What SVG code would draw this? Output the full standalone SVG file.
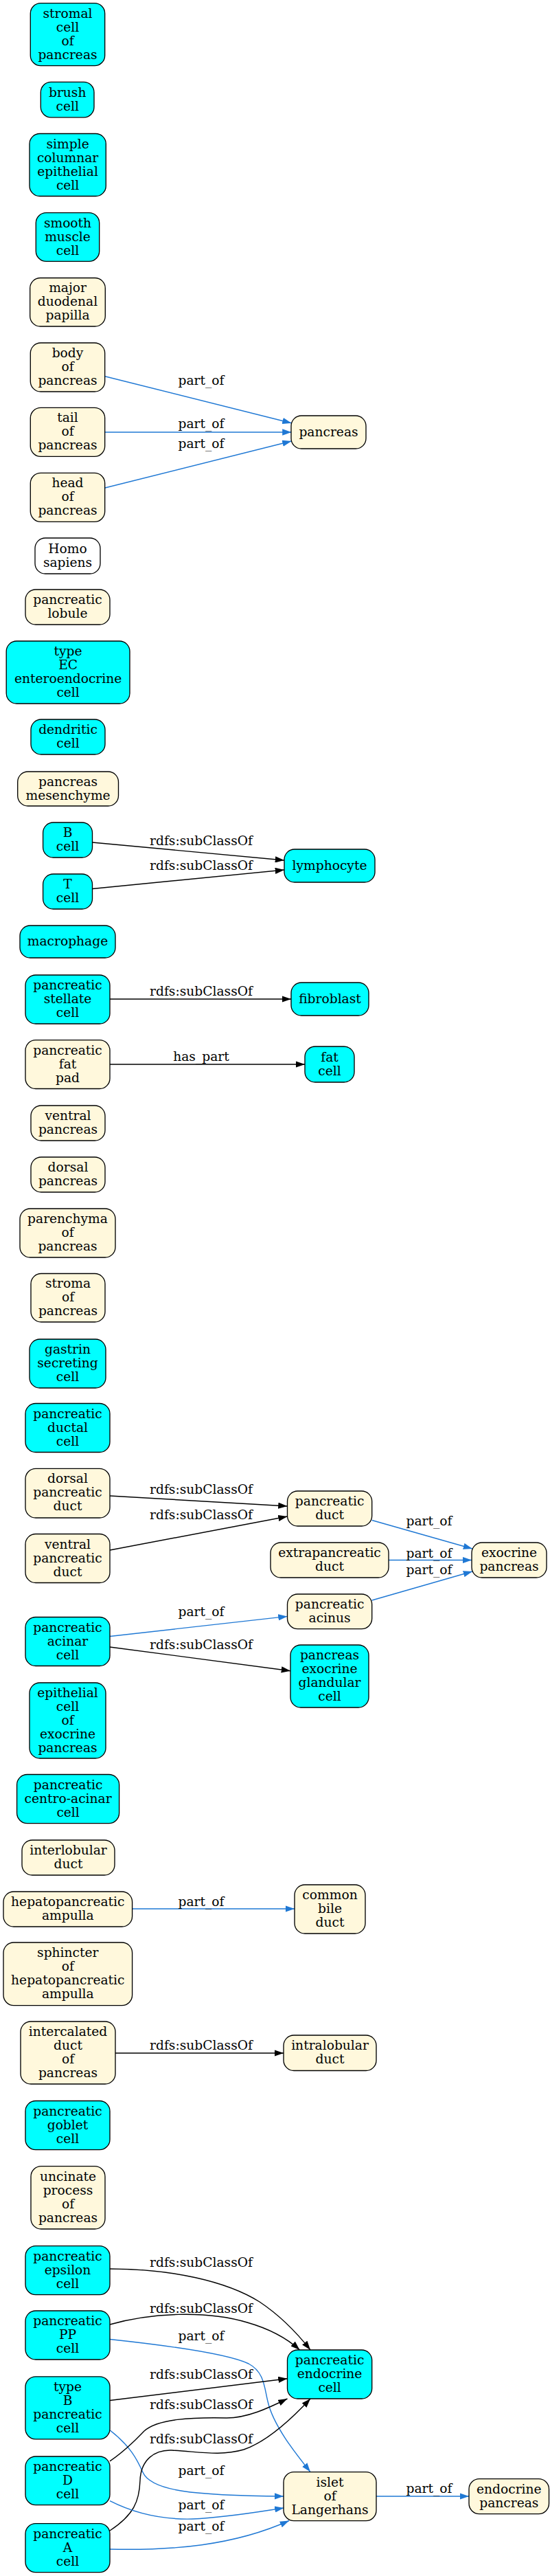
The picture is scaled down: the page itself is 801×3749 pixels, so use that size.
<svg xmlns="http://www.w3.org/2000/svg" width="801" height="3749" viewBox="0 0 801 3749">
<style>
.n rect{stroke:#000;stroke-width:1.33}
.c rect{fill:#00ffff}
.y rect{fill:#fff8dc}
.w rect{fill:#ffffff}
text{font-family:"DejaVu Serif",serif;font-size:18.67px;text-anchor:middle;fill:#000}
#edges path{fill:none;stroke-width:1.4}
#edges .k{stroke:#000;marker-end:url(#ak)}
#edges .p{stroke:#1f78d4;marker-end:url(#ap)}
</style>
<defs>
<marker id="ak" viewBox="0 0 10 7" refX="10" refY="3.5" markerWidth="13.3" markerHeight="9.3" markerUnits="userSpaceOnUse" orient="auto"><path d="M0,0L10,3.5L0,7z" fill="#000"/></marker>
<marker id="ap" viewBox="0 0 10 7" refX="10" refY="3.5" markerWidth="13.3" markerHeight="9.3" markerUnits="userSpaceOnUse" orient="auto"><path d="M0,0L10,3.5L0,7z" fill="#1f78d4"/></marker>
</defs>
<rect width="801" height="3749" fill="#fff"/>
<g id="edges">
<path class="p" d="M153,547.7L424.5,615.7"/>
<path class="p" d="M153,629L424.5,629"/>
<path class="p" d="M153,710L424.5,642"/>
<path class="k" d="M134.5,1226L414,1252"/>
<path class="k" d="M134.5,1293.5L414,1266"/>
<path class="k" d="M160,1454L424,1454"/>
<path class="k" d="M160,1549L444,1549"/>
<path class="k" d="M160,2177L418.5,2192"/>
<path class="k" d="M160,2256L418.5,2207"/>
<path class="p" d="M541.7,2212.5L688,2254"/>
<path class="p" d="M566,2270.5L687,2270.5"/>
<path class="p" d="M541.7,2329L688,2287"/>
<path class="p" d="M160,2381.5L418.5,2352.4"/>
<path class="k" d="M160,2397L423,2431.7"/>
<path class="p" d="M192.6,2778L429,2778"/>
<path class="k" d="M168,2988L413,2988"/>
<path class="k" d="M160,3302C250,3302 330,3320 378,3350C405,3368 430,3392 452,3420"/>
<path class="k" d="M160,3383C220,3366 300,3362 360,3380C395,3390 420,3405 436.5,3420"/>
<path class="p" d="M160,3404.5C230,3412 330,3425 362,3440C385,3452 385,3475 390,3495C398,3530 430,3570 452,3597.6"/>
<path class="k" d="M160,3493.5L418.5,3461.7"/>
<path class="p" d="M160,3536.7C190,3560 200,3580 208,3598C220,3625 280,3632 413,3633"/>
<path class="k" d="M160,3581.8C185,3565 200,3548 210,3538C230,3520 280,3518 330,3519C360,3519 390,3505 418.5,3491"/>
<path class="k" d="M160,3683C195,3660 203,3640 204,3610C205,3580 225,3565 250,3566C290,3568 320,3575 355,3565C390,3553 425,3520 452,3491"/>
<path class="p" d="M160,3639.7C200,3660 240,3667 280,3666C330,3664 380,3655 413.4,3650"/>
<path class="p" d="M160,3710C250,3712 340,3705 421,3668.5"/>
<path class="p" d="M548,3633L683,3633"/>
<text x="293" y="560">part_of</text>
<text x="293" y="623">part_of</text>
<text x="293" y="651.7">part_of</text>
<text x="293" y="1230">rdfs:subClassOf</text>
<text x="293" y="1266">rdfs:subClassOf</text>
<text x="293" y="1449">rdfs:subClassOf</text>
<text x="293" y="1543.8">has_part</text>
<text x="293" y="2174.3">rdfs:subClassOf</text>
<text x="293" y="2210.7">rdfs:subClassOf</text>
<text x="625" y="2220">part_of</text>
<text x="625" y="2266.6">part_of</text>
<text x="625" y="2290.6">part_of</text>
<text x="293" y="2351.7">part_of</text>
<text x="293" y="2399.7">rdfs:subClassOf</text>
<text x="293" y="2773.6">part_of</text>
<text x="293" y="2982.6">rdfs:subClassOf</text>
<text x="293" y="3299.3">rdfs:subClassOf</text>
<text x="293" y="3365.7">rdfs:subClassOf</text>
<text x="293" y="3406">part_of</text>
<text x="293" y="3461.7">rdfs:subClassOf</text>
<text x="293" y="3506">rdfs:subClassOf</text>
<text x="293" y="3556">rdfs:subClassOf</text>
<text x="293" y="3602">part_of</text>
<text x="293" y="3652">part_of</text>
<text x="293" y="3683">part_of</text>
<text x="625" y="3628">part_of</text>
</g>
<g id="n01" class="n c"><rect x="44.3" y="4.7" width="108.4" height="91" rx="15"/><text><tspan x="98.5" y="25.7">stromal</tspan><tspan x="98.5" y="45.7">cell</tspan><tspan x="98.5" y="65.7">of</tspan><tspan x="98.5" y="85.7">pancreas</tspan></text></g>
<g id="n02" class="n c"><rect x="59.3" y="119.4" width="77.7" height="51.4" rx="15"/><text><tspan x="98.2" y="140.6">brush</tspan><tspan x="98.2" y="160.6">cell</tspan></text></g>
<g id="n03" class="n c"><rect x="43" y="194.5" width="111.3" height="91" rx="15"/><text><tspan x="98.6" y="215.5">simple</tspan><tspan x="98.6" y="235.5">columnar</tspan><tspan x="98.6" y="255.5">epithelial</tspan><tspan x="98.6" y="275.5">cell</tspan></text></g>
<g id="n04" class="n c"><rect x="52.3" y="309.6" width="92.4" height="70.8" rx="15"/><text><tspan x="98.5" y="330.5">smooth</tspan><tspan x="98.5" y="350.5">muscle</tspan><tspan x="98.5" y="370.5">cell</tspan></text></g>
<g id="n05" class="n y"><rect x="43.7" y="404.5" width="109.6" height="70.5" rx="15"/><text><tspan x="98.5" y="425.3">major</tspan><tspan x="98.5" y="445.3">duodenal</tspan><tspan x="98.5" y="465.3">papilla</tspan></text></g>
<g id="n06" class="n y"><rect x="44.3" y="499" width="108.4" height="71" rx="15"/><text><tspan x="98.5" y="520">body</tspan><tspan x="98.5" y="540">of</tspan><tspan x="98.5" y="560">pancreas</tspan></text></g>
<g id="n07" class="n y"><rect x="44.3" y="593.3" width="108.4" height="71" rx="15"/><text><tspan x="98.5" y="614.3">tail</tspan><tspan x="98.5" y="634.3">of</tspan><tspan x="98.5" y="654.3">pancreas</tspan></text></g>
<g id="n08" class="n y"><rect x="44.3" y="688.3" width="108.4" height="71" rx="15"/><text><tspan x="98.5" y="709.3">head</tspan><tspan x="98.5" y="729.3">of</tspan><tspan x="98.5" y="749.3">pancreas</tspan></text></g>
<g id="n09" class="n w"><rect x="51" y="783" width="95" height="52" rx="15"/><text><tspan x="98.5" y="804.5">Homo</tspan><tspan x="98.5" y="824.5">sapiens</tspan></text></g>
<g id="n10" class="n y"><rect x="37" y="858" width="123" height="51" rx="15"/><text><tspan x="98.5" y="879">pancreatic</tspan><tspan x="98.5" y="899">lobule</tspan></text></g>
<g id="n11" class="n c"><rect x="9.2" y="933" width="179.8" height="91" rx="15"/><text><tspan x="99.1" y="954">type</tspan><tspan x="99.1" y="974">EC</tspan><tspan x="99.1" y="994">enteroendocrine</tspan><tspan x="99.1" y="1014">cell</tspan></text></g>
<g id="n12" class="n c"><rect x="45" y="1047" width="108" height="51" rx="15"/><text><tspan x="99" y="1068">dendritic</tspan><tspan x="99" y="1088">cell</tspan></text></g>
<g id="n13" class="n y"><rect x="25.7" y="1123" width="146.8" height="50" rx="15"/><text><tspan x="99.1" y="1143.5">pancreas</tspan><tspan x="99.1" y="1163.5">mesenchyme</tspan></text></g>
<g id="n14" class="n c"><rect x="62.6" y="1197" width="71.9" height="51" rx="15"/><text><tspan x="98.5" y="1218">B</tspan><tspan x="98.5" y="1238">cell</tspan></text></g>
<g id="n15" class="n c"><rect x="62.6" y="1272" width="71.9" height="51" rx="15"/><text><tspan x="98.5" y="1293">T</tspan><tspan x="98.5" y="1313">cell</tspan></text></g>
<g id="n16" class="n c"><rect x="29" y="1347" width="139" height="47" rx="15"/><text x="98.5" y="1376">macrophage</text></g>
<g id="n17" class="n c"><rect x="37" y="1419" width="123" height="71" rx="15"/><text><tspan x="98.5" y="1440">pancreatic</tspan><tspan x="98.5" y="1460">stellate</tspan><tspan x="98.5" y="1480">cell</tspan></text></g>
<g id="n18" class="n y"><rect x="37" y="1513.6" width="123" height="70.9" rx="15"/><text><tspan x="98.5" y="1534.5">pancreatic</tspan><tspan x="98.5" y="1554.5">fat</tspan><tspan x="98.5" y="1574.5">pad</tspan></text></g>
<g id="n19" class="n y"><rect x="45" y="1609" width="108" height="51" rx="15"/><text><tspan x="99" y="1630">ventral</tspan><tspan x="99" y="1650">pancreas</tspan></text></g>
<g id="n20" class="n y"><rect x="45" y="1684" width="108" height="51" rx="15"/><text><tspan x="99" y="1705">dorsal</tspan><tspan x="99" y="1725">pancreas</tspan></text></g>
<g id="n21" class="n y"><rect x="29" y="1759" width="139" height="71" rx="15"/><text><tspan x="98.5" y="1780">parenchyma</tspan><tspan x="98.5" y="1800">of</tspan><tspan x="98.5" y="1820">pancreas</tspan></text></g>
<g id="n22" class="n y"><rect x="45" y="1853.5" width="108" height="70.5" rx="15"/><text><tspan x="99" y="1874.3">stroma</tspan><tspan x="99" y="1894.3">of</tspan><tspan x="99" y="1914.3">pancreas</tspan></text></g>
<g id="n23" class="n c"><rect x="43" y="1949" width="111" height="71" rx="15"/><text><tspan x="98.5" y="1970">gastrin</tspan><tspan x="98.5" y="1990">secreting</tspan><tspan x="98.5" y="2010">cell</tspan></text></g>
<g id="n24" class="n c"><rect x="37" y="2042.5" width="123" height="71" rx="15"/><text><tspan x="98.5" y="2063.5">pancreatic</tspan><tspan x="98.5" y="2083.5">ductal</tspan><tspan x="98.5" y="2103.5">cell</tspan></text></g>
<g id="n25" class="n y"><rect x="37" y="2137.3" width="123" height="71.7" rx="15"/><text><tspan x="98.5" y="2158.2">dorsal</tspan><tspan x="98.5" y="2178.2">pancreatic</tspan><tspan x="98.5" y="2198.2">duct</tspan></text></g>
<g id="n26" class="n y"><rect x="37" y="2232.5" width="123" height="71" rx="15"/><text><tspan x="98.5" y="2253.5">ventral</tspan><tspan x="98.5" y="2273.5">pancreatic</tspan><tspan x="98.5" y="2293.5">duct</tspan></text></g>
<g id="n27" class="n c"><rect x="37" y="2353.5" width="123" height="71" rx="15"/><text><tspan x="98.5" y="2374.5">pancreatic</tspan><tspan x="98.5" y="2394.5">acinar</tspan><tspan x="98.5" y="2414.5">cell</tspan></text></g>
<g id="n28" class="n c"><rect x="43" y="2449" width="111" height="110" rx="15"/><text><tspan x="98.5" y="2469.5">epithelial</tspan><tspan x="98.5" y="2489.5">cell</tspan><tspan x="98.5" y="2509.5">of</tspan><tspan x="98.5" y="2529.5">exocrine</tspan><tspan x="98.5" y="2549.5">pancreas</tspan></text></g>
<g id="n29" class="n c"><rect x="24.6" y="2582.5" width="149" height="71.1" rx="15"/><text><tspan x="99.1" y="2603.5">pancreatic</tspan><tspan x="99.1" y="2623.5">centro-acinar</tspan><tspan x="99.1" y="2643.5">cell</tspan></text></g>
<g id="n30" class="n y"><rect x="32" y="2678" width="135" height="51" rx="15"/><text><tspan x="99.5" y="2699">interlobular</tspan><tspan x="99.5" y="2719">duct</tspan></text></g>
<g id="n31" class="n y"><rect x="5" y="2753" width="187.6" height="51" rx="15"/><text><tspan x="98.8" y="2774">hepatopancreatic</tspan><tspan x="98.8" y="2794">ampulla</tspan></text></g>
<g id="n32" class="n y"><rect x="5" y="2827" width="187.6" height="91.6" rx="15"/><text><tspan x="98.8" y="2848.3">sphincter</tspan><tspan x="98.8" y="2868.3">of</tspan><tspan x="98.8" y="2888.3">hepatopancreatic</tspan><tspan x="98.8" y="2908.3">ampulla</tspan></text></g>
<g id="n33" class="n y"><rect x="30" y="2942" width="138" height="91" rx="15"/><text><tspan x="99" y="2963">intercalated</tspan><tspan x="99" y="2983">duct</tspan><tspan x="99" y="3003">of</tspan><tspan x="99" y="3023">pancreas</tspan></text></g>
<g id="n34" class="n c"><rect x="37" y="3057.5" width="123" height="71.2" rx="15"/><text><tspan x="98.5" y="3078.5">pancreatic</tspan><tspan x="98.5" y="3098.5">goblet</tspan><tspan x="98.5" y="3118.5">cell</tspan></text></g>
<g id="n35" class="n y"><rect x="45" y="3152.7" width="108" height="91.3" rx="15"/><text><tspan x="99" y="3173.9">uncinate</tspan><tspan x="99" y="3193.9">process</tspan><tspan x="99" y="3213.9">of</tspan><tspan x="99" y="3233.9">pancreas</tspan></text></g>
<g id="n36" class="n c"><rect x="37" y="3268.6" width="123" height="71" rx="15"/><text><tspan x="98.5" y="3289.5">pancreatic</tspan><tspan x="98.5" y="3309.5">epsilon</tspan><tspan x="98.5" y="3329.5">cell</tspan></text></g>
<g id="n37" class="n c"><rect x="37" y="3363" width="123" height="71" rx="15"/><text><tspan x="98.5" y="3384">pancreatic</tspan><tspan x="98.5" y="3404">PP</tspan><tspan x="98.5" y="3424">cell</tspan></text></g>
<g id="n38" class="n c"><rect x="37" y="3458.8" width="123" height="91" rx="15"/><text><tspan x="98.5" y="3479.8">type</tspan><tspan x="98.5" y="3499.8">B</tspan><tspan x="98.5" y="3519.8">pancreatic</tspan><tspan x="98.5" y="3539.8">cell</tspan></text></g>
<g id="n39" class="n c"><rect x="37" y="3575" width="123" height="70.6" rx="15"/><text><tspan x="98.5" y="3595.8">pancreatic</tspan><tspan x="98.5" y="3615.8">D</tspan><tspan x="98.5" y="3635.8">cell</tspan></text></g>
<g id="n40" class="n c"><rect x="37" y="3672.6" width="123" height="71" rx="15"/><text><tspan x="98.5" y="3693.6">pancreatic</tspan><tspan x="98.5" y="3713.6">A</tspan><tspan x="98.5" y="3733.6">cell</tspan></text></g>
<g id="r01" class="n y"><rect x="424" y="605" width="109" height="48" rx="15"/><text x="478.5" y="634.5">pancreas</text></g>
<g id="r02" class="n c"><rect x="414" y="1236" width="132" height="48" rx="15"/><text x="480" y="1265.5">lymphocyte</text></g>
<g id="r03" class="n c"><rect x="424" y="1430" width="113" height="48" rx="15"/><text x="480.5" y="1459.5">fibroblast</text></g>
<g id="r04" class="n c"><rect x="444" y="1523" width="72" height="52" rx="15"/><text><tspan x="480" y="1544.5">fat</tspan><tspan x="480" y="1564.5">cell</tspan></text></g>
<g id="r05" class="n y"><rect x="418.5" y="2170" width="123.2" height="51" rx="15"/><text><tspan x="480.1" y="2191">pancreatic</tspan><tspan x="480.1" y="2211">duct</tspan></text></g>
<g id="r06" class="n y"><rect x="394" y="2245" width="172" height="51" rx="15"/><text><tspan x="480" y="2266">extrapancreatic</tspan><tspan x="480" y="2286">duct</tspan></text></g>
<g id="r07" class="n y"><rect x="687" y="2245" width="109" height="51" rx="15"/><text><tspan x="741.5" y="2266">exocrine</tspan><tspan x="741.5" y="2286">pancreas</tspan></text></g>
<g id="r08" class="n y"><rect x="418.5" y="2320" width="123.2" height="50.6" rx="15"/><text><tspan x="480.1" y="2340.8">pancreatic</tspan><tspan x="480.1" y="2360.8">acinus</tspan></text></g>
<g id="r09" class="n c"><rect x="423" y="2394" width="114" height="91" rx="15"/><text><tspan x="480" y="2415">pancreas</tspan><tspan x="480" y="2435">exocrine</tspan><tspan x="480" y="2455">glandular</tspan><tspan x="480" y="2475">cell</tspan></text></g>
<g id="r10" class="n y"><rect x="429" y="2743" width="103" height="71" rx="15"/><text><tspan x="480.5" y="2764">common</tspan><tspan x="480.5" y="2784">bile</tspan><tspan x="480.5" y="2804">duct</tspan></text></g>
<g id="r11" class="n y"><rect x="413" y="2962" width="135" height="51.5" rx="15"/><text><tspan x="480.5" y="2983.3">intralobular</tspan><tspan x="480.5" y="3003.3">duct</tspan></text></g>
<g id="r12" class="n c"><rect x="418.5" y="3420" width="123.2" height="71" rx="15"/><text><tspan x="480.1" y="3441">pancreatic</tspan><tspan x="480.1" y="3461">endocrine</tspan><tspan x="480.1" y="3481">cell</tspan></text></g>
<g id="r13" class="n y"><rect x="413" y="3597.6" width="135" height="71" rx="15"/><text><tspan x="480.5" y="3618.6">islet</tspan><tspan x="480.5" y="3638.6">of</tspan><tspan x="480.5" y="3658.6">Langerhans</tspan></text></g>
<g id="r14" class="n y"><rect x="683" y="3607.6" width="116.5" height="51" rx="15"/><text><tspan x="741.3" y="3628.6">endocrine</tspan><tspan x="741.3" y="3648.6">pancreas</tspan></text></g>
</svg>
